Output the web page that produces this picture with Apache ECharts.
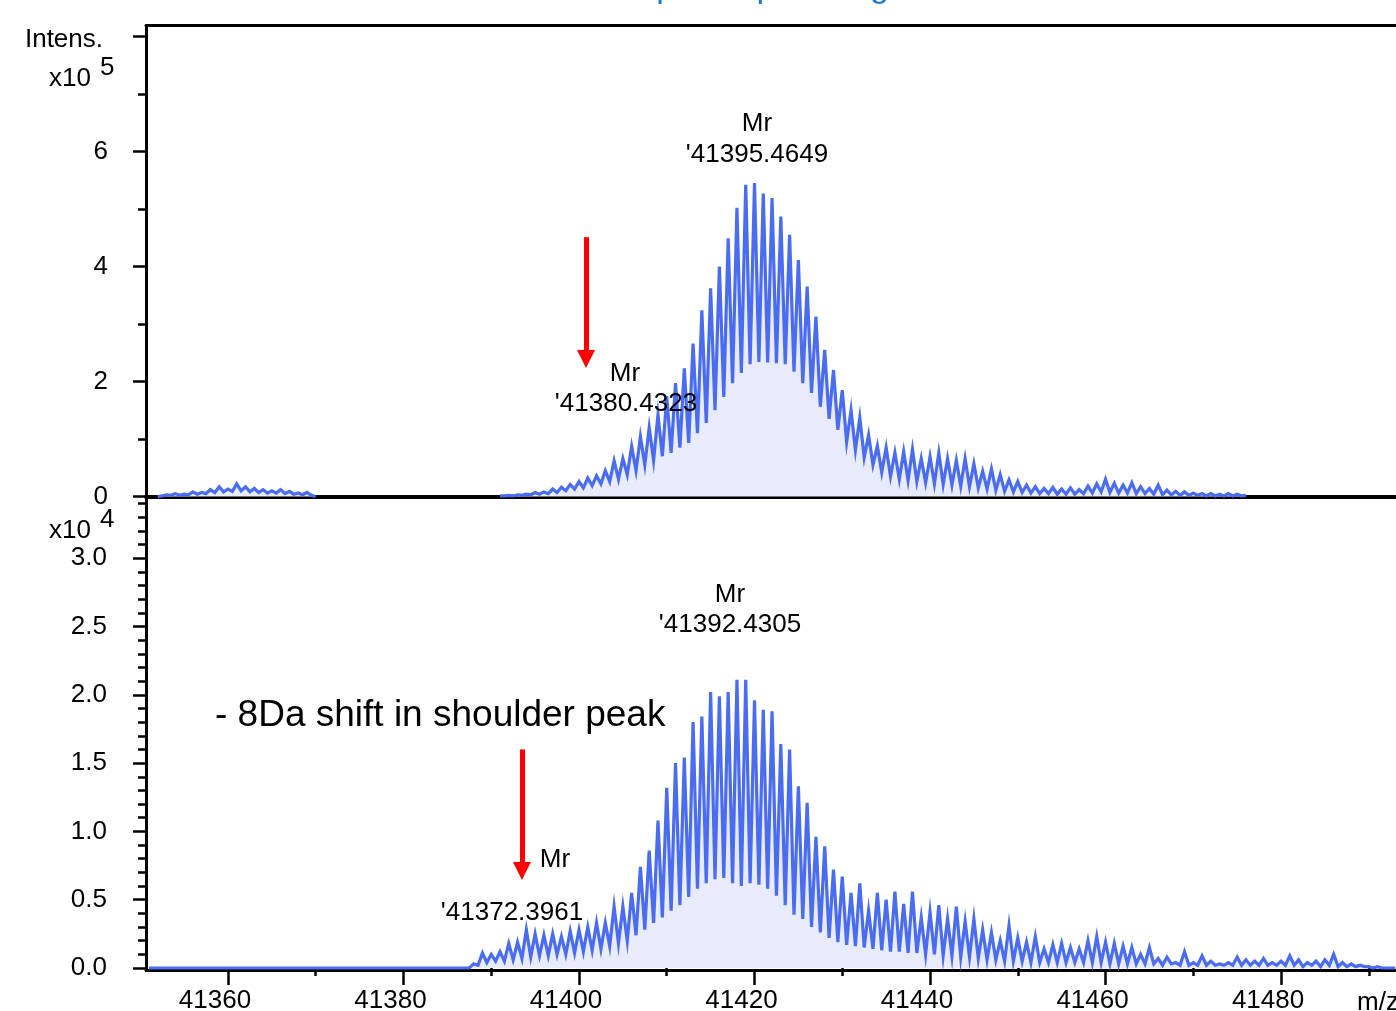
<!DOCTYPE html>
<html><head><meta charset="utf-8">
<script src="https://cdn.jsdelivr.net/npm/echarts@6/dist/echarts.min.js"></script>
<style>html,body{margin:0;padding:0;background:#fff}#c{width:1396px;height:1011px}</style>
</head><body><div id="c"></div>
<script>
// m/z grid: spikes at integer m/z, valleys half way between
const mzStart = 41351;
const mzStep = 1;

// Top spectrum (Intens. x10^5)
const topPeaks = [
 null,0.00,0.03,0.05,0.04,0.08,0.07,0.12,0.17,0.13,
 0.22,0.17,0.14,0.12,0.10,0.12,0.09,0.06,0.07,0.00,
 null,null,null,null,null,null,null,null,null,null,
 null,null,null,null,null,null,null,null,null,null,
 0.01,0.02,0.03,0.04,0.07,0.08,0.13,0.16,0.21,0.26,
 0.32,0.36,0.45,0.62,0.66,0.87,1.04,1.20,1.42,1.74,
 1.97,2.23,2.66,3.24,3.62,4.00,4.49,5.02,5.42,5.45,
 5.27,5.19,4.87,4.55,4.11,3.65,3.13,2.55,2.20,1.85,
 1.50,1.37,1.07,0.88,0.85,0.76,0.78,0.82,0.66,0.69,
 0.76,0.66,0.63,0.66,0.57,0.44,0.48,0.38,0.29,0.26,
 0.20,0.17,0.14,0.16,0.13,0.15,0.12,0.18,0.22,0.30,
 0.23,0.20,0.24,0.17,0.14,0.20,0.11,0.09,0.08,0.06,
 0.05,0.05,0.04,0.05,0.04,0.02,null,null,null,null,
 null,null,null,null,null,null,null,null,null,null,
 null,null,null
];
const topTroughs = [
 null,0.01,0.02,0.02,0.03,0.04,0.05,0.07,0.08,0.09,
 0.10,0.08,0.07,0.06,0.06,0.05,0.04,0.03,0.02,null,
 null,null,null,null,null,null,null,null,null,null,
 null,null,null,null,null,null,null,null,null,null,
 0.01,0.01,0.02,0.03,0.04,0.05,0.07,0.10,0.13,0.15,
 0.19,0.22,0.26,0.30,0.38,0.45,0.55,0.63,0.70,0.76,
 0.85,0.93,1.10,1.28,1.50,1.73,1.97,2.15,2.30,2.34,
 2.33,2.32,2.30,2.17,1.97,1.80,1.56,1.35,1.16,0.95,
 0.81,0.68,0.55,0.42,0.35,0.30,0.28,0.26,0.24,0.22,
 0.21,0.20,0.18,0.17,0.15,0.13,0.11,0.09,0.08,0.07,
 0.06,0.05,0.05,0.04,0.04,0.04,0.05,0.06,0.08,0.07,
 0.06,0.06,0.05,0.05,0.04,0.03,0.03,0.02,0.02,0.02,
 0.01,0.01,0.01,0.01,0.01,null,null,null,null,null,
 null,null,null,null,null,null,null,null,null,null,
 null,null
];

// Bottom spectrum (x10^4)
const bottomPeaks = [
 0,0,0,0,0,0,0,0,0,0,
 0,0,0,0,0,0,0,0,0,0,
 0,0,0,0,0,0,0,0,0,0,
 0,0,0,0,0,0,0,
 0.03,0.11,0.10,0.12,0.18,0.19,0.28,0.25,0.24,0.25,
 0.23,0.27,0.28,0.30,0.33,0.33,0.45,0.45,0.55,0.74,
 0.86,1.08,1.32,1.50,1.54,1.80,1.84,2.02,1.99,2.02,
 2.11,2.11,1.96,1.89,1.88,1.64,1.60,1.33,1.21,0.96,
 0.89,0.72,0.67,0.55,0.62,0.42,0.55,0.50,0.56,0.47,
 0.56,0.37,0.41,0.46,0.36,0.45,0.34,0.36,0.28,0.26,
 0.20,0.31,0.22,0.19,0.23,0.14,0.17,0.18,0.15,0.14,
 0.20,0.23,0.19,0.18,0.16,0.15,0.10,0.15,0.07,0.08,
 0.04,0.12,0.04,0.09,0.05,0.03,0.04,0.08,0.06,0.05,
 0.07,0.04,0.05,0.09,0.06,0.04,0.05,0.06,0.10,0.04,
 0.03,0.02,0.01,0.01,0,0
];
const bottomTroughs = [
 0,0,0,0,0,0,0,0,0,0,
 0,0,0,0,0,0,0,0,0,0,
 0,0,0,0,0,0,0,0,0,0,
 0,0,0,0,0,0,0,
 0.02,0.04,0.05,0.05,0.06,0.07,0.08,0.09,0.09,0.10,
 0.10,0.11,0.12,0.13,0.14,0.16,0.18,0.20,0.24,0.28,
 0.33,0.37,0.42,0.46,0.52,0.58,0.62,0.65,0.66,0.62,
 0.60,0.62,0.61,0.58,0.53,0.46,0.39,0.36,0.30,0.26,
 0.22,0.19,0.17,0.16,0.15,0.14,0.13,0.12,0.12,0.11,
 0.11,0.10,0.10,0.09,0.09,0.08,0.08,0.07,0.06,0.06,
 0.05,0.05,0.05,0.04,0.04,0.04,0.04,0.04,0.04,0.04,
 0.04,0.04,0.03,0.03,0.03,0.03,0.03,0.03,0.02,0.03,
 0.02,0.02,0.02,0.02,0.02,0.02,0.02,0.02,0.02,0.02,
 0.02,0.02,0.02,0.02,0.01,0.02,0.01,0.02,0.01,0.01,
 0.01,0.01,0,0,0
];

const xMajorTicks = [41360,41380,41400,41420,41440,41460,41480];
const xMinorTicks = [41370,41390,41410,41430,41450,41470,41490];
const topYTicks = [0,2,4,6,8];
const topYLabels = [0,2,4,6];
const topYMinor = [1,3,5,7];
const bottomYTicks = [0,0.5,1.0,1.5,2.0,2.5,3.0];
const bottomYMinor = [0.1,0.2,0.3,0.4,0.6,0.7,0.8,0.9,1.1,1.2,1.3,1.4,1.6,1.7,1.8,1.9,
  2.1,2.2,2.3,2.4,2.6,2.7,2.8,2.9,3.1,3.2,3.3,3.4];

// annotations
const topMainLabel = ["Mr", "'41395.4649"];
const topShoulderLabel = ["Mr", "'41380.4323"];
const bottomMainLabel = ["Mr", "'41392.4305"];
const bottomShoulderLabel = ["Mr", "'41372.3961"];
const noteText = "- 8Da shift in shoulder peak";
const topArrow = {mz: 41400.8, from: 4.51, to: 2.39};
const bottomArrow = {mz: 41393.5, from: 1.60, to: 0.71};

function buildSeries(peaks, troughs) {
  const out = [];
  for (let i = 0; i < peaks.length; i++) {
    out.push([mzStart + i * mzStep, peaks[i]]);
    if (i < troughs.length) out.push([mzStart + (i + 0.5) * mzStep, troughs[i]]);
  }
  return out;
}

const FONT = '"Liberation Sans", Arial, Helvetica, sans-serif';
const BLACK = '#000';
const LINE = '#4a6cf0';
const FILL = '#e8ebfb';
const XMIN = 41350.66, XMAX = 41493.1;

const chart = echarts.init(document.getElementById('c'), null, {renderer: 'canvas'});

function txt(text, x, y, size, align, color) {
  return {type: 'text', x: x, y: y, silent: true, z: 100,
    style: {text: text, fontSize: size, fontFamily: FONT, fill: color || BLACK,
      align: align, textAlign: align, verticalAlign: 'middle', textVerticalAlign: 'middle'}};
}

const xBase = {type: 'value', min: XMIN, max: XMAX, splitLine: {show: false}};

function arrowMark(a) {
  return {silent: true, animation: false, symbol: ['none', 'triangle'], symbolSize: 18,
    label: {show: false}, lineStyle: {color: '#ff0000', width: 5, type: 'solid'},
    itemStyle: {color: '#ff0000'},
    emphasis: {disabled: true},
    data: [[{coord: [a.mz, a.from]}, {coord: [a.mz, a.to]}]]};
}

const option = {
  animation: false,
  backgroundColor: '#fff',
  grid: [
    {left: 146, right: 0, top: 25.5, height: 471, containLabel: false, outerBoundsMode: 'none'},
    {left: 146, right: 0, top: 497, bottom: 41, containLabel: false, outerBoundsMode: 'none'}
  ],
  xAxis: [
    Object.assign({}, xBase, {gridIndex: 0, position: 'bottom',
      axisLine: {show: true, onZero: false, lineStyle: {color: BLACK, width: 4}},
      axisTick: {show: false}, axisLabel: {show: false}}),
    Object.assign({}, xBase, {gridIndex: 0, position: 'top',
      axisLine: {show: true, onZero: false, lineStyle: {color: BLACK, width: 3}},
      axisTick: {show: false}, axisLabel: {show: false}}),
    Object.assign({}, xBase, {gridIndex: 1, position: 'bottom',
      axisLine: {show: true, onZero: false, lineStyle: {color: BLACK, width: 3}},
      axisTick: {show: true, length: 15, customValues: xMajorTicks, lineStyle: {color: BLACK, width: 2.5}},
      axisLabel: {show: true, customValues: xMajorTicks, margin: 18, fontSize: 26, fontFamily: FONT,
        color: BLACK, padding: [0, 26, 0, 0], formatter: v => String(v)}}),
    Object.assign({}, xBase, {gridIndex: 1, position: 'bottom',
      axisLine: {show: false},
      axisTick: {show: true, length: 8, customValues: xMinorTicks, lineStyle: {color: BLACK, width: 2.5}},
      axisLabel: {show: false}})
  ],
  yAxis: [
    {type: 'value', gridIndex: 0, min: 0, max: 8.191, position: 'left', splitLine: {show: false},
      axisLine: {show: true, onZero: false, lineStyle: {color: BLACK, width: 3}},
      axisTick: {show: true, length: 13, customValues: topYTicks, lineStyle: {color: BLACK, width: 2.5}},
      axisLabel: {show: true, customValues: topYLabels, margin: 38, fontSize: 26, fontFamily: FONT,
        color: BLACK, formatter: v => String(v)}},
    {type: 'value', gridIndex: 0, min: 0, max: 8.191, position: 'left', splitLine: {show: false},
      axisLine: {show: false},
      axisTick: {show: true, length: 8, customValues: topYMinor, lineStyle: {color: BLACK, width: 2.5}},
      axisLabel: {show: false}},
    {type: 'value', gridIndex: 1, min: -0.0146, max: 3.448, position: 'left', splitLine: {show: false},
      axisLine: {show: true, onZero: false, lineStyle: {color: BLACK, width: 3}},
      axisTick: {show: true, length: 13, customValues: bottomYTicks, lineStyle: {color: BLACK, width: 2.5}},
      axisLabel: {show: true, customValues: bottomYTicks, margin: 39, fontSize: 26, fontFamily: FONT,
        color: BLACK, formatter: v => v.toFixed(1)}},
    {type: 'value', gridIndex: 1, min: -0.0146, max: 3.448, position: 'left', splitLine: {show: false},
      axisLine: {show: false},
      axisTick: {show: true, length: 8, customValues: bottomYMinor, lineStyle: {color: BLACK, width: 2.5}},
      axisLabel: {show: false}}
  ],
  series: [
    {type: 'line', xAxisIndex: 0, yAxisIndex: 0, data: buildSeries(topPeaks, topTroughs),
      symbol: 'none', connectNulls: false, clip: true, z: 3,
      lineStyle: {color: LINE, width: 3.2, join: 'miter'},
      areaStyle: {color: FILL, opacity: 1},
      emphasis: {disabled: true},
      markLine: arrowMark(topArrow)},
    {type: 'line', xAxisIndex: 2, yAxisIndex: 2, data: buildSeries(bottomPeaks, bottomTroughs),
      symbol: 'none', clip: true, z: 3,
      lineStyle: {color: LINE, width: 3.2, join: 'miter'},
      areaStyle: {color: FILL, opacity: 1},
      emphasis: {disabled: true},
      markLine: arrowMark(bottomArrow)}
  ],
  graphic: [
    txt('Deconvoluted peak spreading', 439, -12, 34, 'left', '#1b7bd0'),
    txt('Intens.', 103, 40, 26, 'right'),
    txt('x10', 91, 79, 26, 'right'),
    txt('5', 100, 68, 26, 'left'),
    txt('x10', 91, 531, 26, 'right'),
    txt('4', 100, 520, 26, 'left'),
    txt(topMainLabel[0], 757, 124, 26, 'center'),
    txt(topMainLabel[1], 757, 155, 26, 'center'),
    txt(topShoulderLabel[0], 625, 374, 26, 'center'),
    txt(topShoulderLabel[1], 626, 404, 26, 'center'),
    txt(bottomMainLabel[0], 730, 595, 26, 'center'),
    txt(bottomMainLabel[1], 730, 625, 26, 'center'),
    txt(bottomShoulderLabel[0], 555, 860, 26, 'center'),
    txt(bottomShoulderLabel[1], 512, 913, 26, 'center'),
    txt(noteText, 215, 716, 37, 'left'),
    txt('m/z', 1357, 1003, 26, 'left')
  ]
};
chart.setOption(option);
</script>
</body></html>
